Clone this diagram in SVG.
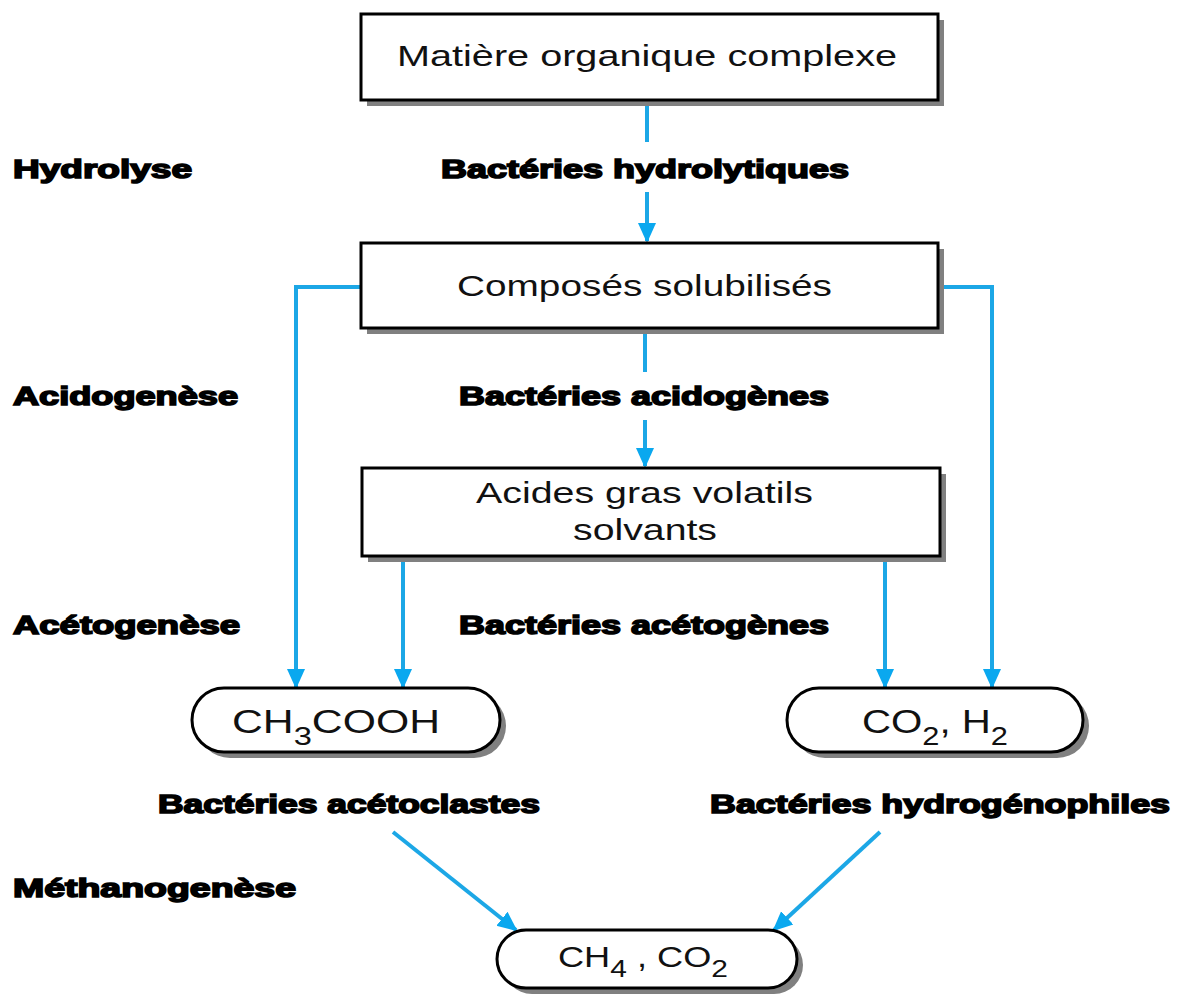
<svg xmlns="http://www.w3.org/2000/svg" width="1188" height="998" viewBox="0 0 1188 998">
<style>
.box{fill:#fff;stroke:#000;stroke-width:3}
.sh{fill:#808080}
.t{font-family:"Liberation Sans",Arial,sans-serif;font-size:29px;fill:#111}
.p{font-family:"Liberation Sans",Arial,sans-serif;font-size:34px;fill:#111}
.b{font-family:"Liberation Sans",Arial,sans-serif;font-size:26px;font-weight:bold;fill:#000;stroke:#000;stroke-width:1.6}
.c{fill:none;stroke:#1ca7e6;stroke-width:4}
</style>
<defs>
<marker id="ah" markerUnits="userSpaceOnUse" markerWidth="20" markerHeight="20" refX="18" refY="9" orient="auto" viewBox="0 0 20 18">
<path d="M0,0 L20,9 L0,18 z" fill="#0aa8ef"/>
</marker>
</defs>
<rect width="1188" height="998" fill="#fff"/>

<g id="labels">
<text class="b" x="13" y="178" textLength="179" lengthAdjust="spacingAndGlyphs">Hydrolyse</text>
<text class="b" x="13" y="405" textLength="225" lengthAdjust="spacingAndGlyphs">Acidogenèse</text>
<text class="b" x="13" y="634" textLength="227" lengthAdjust="spacingAndGlyphs">Acétogenèse</text>
<text class="b" x="13" y="897" textLength="283" lengthAdjust="spacingAndGlyphs">Méthanogenèse</text>
<text class="b" x="441" y="178" textLength="408" lengthAdjust="spacingAndGlyphs">Bactéries hydrolytiques</text>
<text class="b" x="459" y="405" textLength="370" lengthAdjust="spacingAndGlyphs">Bactéries acidogènes</text>
<text class="b" x="459" y="634" textLength="370" lengthAdjust="spacingAndGlyphs">Bactéries acétogènes</text>
<text class="b" x="158" y="813" textLength="382" lengthAdjust="spacingAndGlyphs">Bactéries acétoclastes</text>
<text class="b" x="710" y="813" textLength="460" lengthAdjust="spacingAndGlyphs">Bactéries hydrogénophiles</text>
</g>

<g id="connectors">
<line class="c" x1="647" y1="100" x2="647" y2="142"/>
<line class="c" x1="647" y1="192" x2="647" y2="241" marker-end="url(#ah)"/>
<line class="c" x1="645" y1="330" x2="645" y2="372"/>
<line class="c" x1="645" y1="420" x2="645" y2="466" marker-end="url(#ah)"/>
<polyline class="c" points="361,287 296,287 296,687" marker-end="url(#ah)"/>
<polyline class="c" points="938,287 992,287 992,687" marker-end="url(#ah)"/>
<line class="c" x1="403" y1="557" x2="403" y2="687" marker-end="url(#ah)"/>
<line class="c" x1="885" y1="557" x2="885" y2="687" marker-end="url(#ah)"/>
<line class="c" x1="393" y1="832" x2="516" y2="930" marker-end="url(#ah)"/>
<line class="c" x1="880" y1="832" x2="774" y2="930" marker-end="url(#ah)"/>
</g>

<g id="n1">
<rect class="sh" x="367" y="20" width="577" height="86"/>
<rect class="box" x="361" y="14" width="577" height="86"/>
<text class="t" x="397" y="66" textLength="500" lengthAdjust="spacingAndGlyphs">Matière organique complexe</text>
</g>

<g id="n2">
<rect class="sh" x="367" y="249" width="577" height="85"/>
<rect class="box" x="361" y="243" width="577" height="85"/>
<text class="t" x="457" y="296" textLength="375" lengthAdjust="spacingAndGlyphs">Composés solubilisés</text>
</g>

<g id="n3">
<rect class="sh" x="368" y="474" width="578" height="88"/>
<rect class="box" x="362" y="468" width="578" height="88"/>
<text class="t" x="476" y="503" textLength="337" lengthAdjust="spacingAndGlyphs">Acides gras volatils</text>
<text class="t" x="573" y="540" textLength="144" lengthAdjust="spacingAndGlyphs">solvants</text>
</g>

<g id="n4">
<rect class="sh" x="198" y="694" width="308" height="64" rx="32"/>
<rect class="box" x="192" y="688" width="308" height="64" rx="32"/>
<text class="p" x="232" y="733" textLength="208" lengthAdjust="spacingAndGlyphs">CH<tspan font-size="26" dy="12">3</tspan><tspan dy="-12">COOH</tspan></text>
</g>

<g id="n5">
<rect class="sh" x="793" y="694" width="296" height="64" rx="32"/>
<rect class="box" x="787" y="688" width="296" height="64" rx="32"/>
<text class="p" x="862" y="733" textLength="146" lengthAdjust="spacingAndGlyphs">CO<tspan font-size="26" dy="12">2</tspan><tspan dy="-12">, H</tspan><tspan font-size="26" dy="12">2</tspan></text>
</g>

<g id="n6">
<rect class="sh" x="503" y="936" width="300" height="58" rx="29"/>
<rect class="box" x="497" y="930" width="300" height="58" rx="29"/>
<text class="t" x="558" y="967" textLength="170" lengthAdjust="spacingAndGlyphs">CH<tspan font-size="24" dy="10">4</tspan><tspan dy="-10"> , CO</tspan><tspan font-size="24" dy="10">2</tspan></text>
</g>
</svg>
